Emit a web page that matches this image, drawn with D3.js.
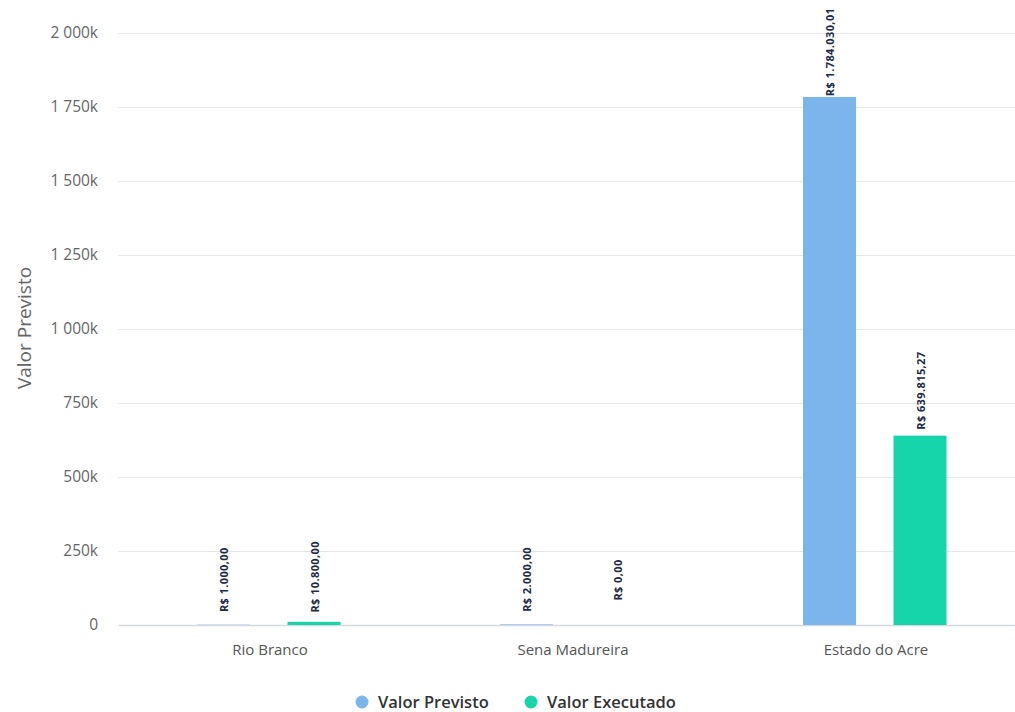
<!DOCTYPE html>
<html><head><meta charset="utf-8">
<script src="https://cdn.jsdelivr.net/npm/d3@7"></script>
<style>
html,body{margin:0;padding:0;background:#fff;overflow:hidden}
svg{display:block;font-family:"Open Sans",sans-serif}
</style></head>
<body><svg id="chart" width="1015" height="712"></svg>
<script>
const categories = ["Rio Branco", "Sena Madureira", "Estado do Acre"];
const seriesNames = ["Valor Previsto", "Valor Executado"];
const valorPrevisto = [1000.00, 2000.00, 1784030.01];
const valorExecutado = [10800.00, 0.00, 639815.27];
const yTicks = [0, 250000, 500000, 750000, 1000000, 1250000, 1500000, 1750000, 2000000];
const colors = ["#7cb5ec", "#17d5aa"];
const yTitle = "Valor Previsto";

(function () {
const seriesValues = [valorPrevisto, valorExecutado];
const svg = d3.select("#chart");
const pLeft = 118.5, pRight = 1027.5, pTop = 33, pBottom = 625;
const FONT = '"Open Sans", sans-serif';

const x0 = d3.scaleBand().domain(categories).range([pLeft, pRight]).padding(0);
const x1 = d3.scaleBand().domain(seriesNames)
  .range([78.5, 222]).paddingInner(0.4144).paddingOuter(0);
const y = d3.scaleLinear().domain([0, 2000000]).range([pBottom, pTop]);

const loc = d3.formatLocale({decimal: ",", thousands: ".", grouping: [3], currency: ["R$ ", ""]});
const money = loc.format("$,.2f");
const kfmt = d3.formatLocale({decimal: ",", thousands: " ", grouping: [3], currency: ["", ""]}).format(",");
const tickFmt = v => v === 0 ? "0" : kfmt(v / 1000) + "k";

// gridlines + y labels
const yAxis = d3.axisLeft(y).tickValues(yTicks).tickFormat(tickFmt).tickSize(-(pRight - pLeft));
const gy = svg.append("g").attr("transform", `translate(${pLeft},0)`).call(yAxis)
  .attr("font-family", FONT);
gy.select(".domain").remove();
gy.selectAll(".tick line").attr("stroke", "#e6e6e6").attr("stroke-width", 1);
gy.selectAll(".tick text").attr("fill", "#666").style("font-size", "15.5px").attr("x", -20.5);

// x axis
const xAxis = d3.axisBottom(x0).tickSize(0);
const gx = svg.append("g").attr("transform", `translate(0,${pBottom})`).call(xAxis)
  .attr("font-family", FONT);
gx.select(".domain").attr("stroke", "#d5d9e0").attr("stroke-width", 1.5);
gx.selectAll(".tick text").attr("fill", "#555").style("font-size", "15px").attr("y", 30).attr("dy", 0);

// y title
svg.append("text").attr("transform", `translate(31,328) rotate(-90)`)
  .attr("text-anchor", "middle").attr("fill", "#666").style("font-size", "19px").text(yTitle);

// bars
const data = [];
categories.forEach((c, i) => seriesNames.forEach((s, j) => data.push({c, s, j, v: seriesValues[j][i]})));
svg.append("g").selectAll("rect").data(data).join("rect")
  .attr("x", d => x0(d.c) + x1(d.s))
  .attr("width", x1.bandwidth())
  .attr("y", d => y(d.v))
  .attr("height", d => pBottom - y(d.v))
  .attr("fill", d => colors[d.j]);

// data labels
svg.append("g").selectAll("text").data(data).join("text")
  .attr("transform", d => `translate(${x0(d.c) + x1(d.s) + x1.bandwidth()/2},${y(d.v) - 45}) rotate(-90)`)
  .attr("text-anchor", "middle").attr("dominant-baseline", "central")
  .attr("fill", "#1c2b48").style("font-size", "11px").style("font-weight", "700")
  .style("letter-spacing", "0.4px")
  .text(d => money(d.v));

// legend
const legendX = [362, 531];
const lg = svg.append("g").selectAll("g").data(seriesNames).join("g")
  .attr("transform", (d, i) => `translate(${legendX[i]},702)`);
lg.append("circle").attr("r", 6.5).attr("fill", (d, i) => colors[i]);
lg.append("text").attr("x", 16).attr("dy", "0.35em").attr("fill", "#333")
  .style("font-size", "16.5px").style("font-weight", "600").text(d => d);
})();
</script></body></html>
